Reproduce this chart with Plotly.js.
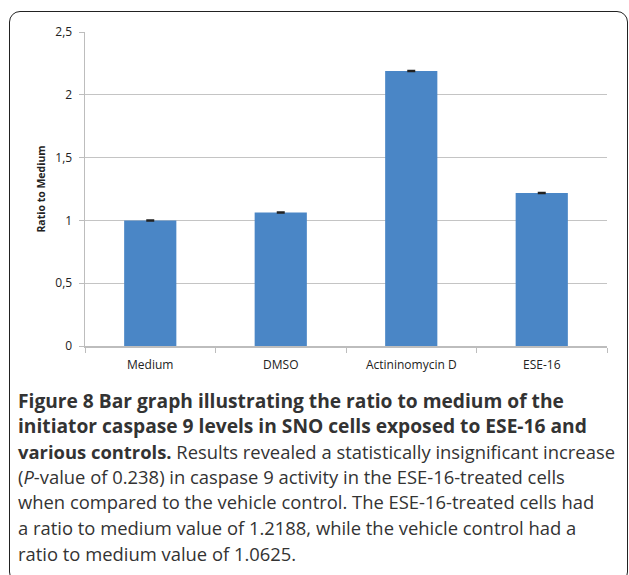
<!DOCTYPE html>
<html>
<head>
<meta charset="utf-8">
<script src="https://cdn.plot.ly/plotly-3.0.1.min.js"></script>
<style>
  html, body { margin: 0; padding: 0; background: #fff; }
  #wrap { position: relative; width: 629px; height: 575px; overflow: hidden; }
  #chart { position: absolute; left: 0; top: 0; width: 629px; height: 575px; }
  #frame { position: absolute; left: 9px; top: 11px; width: 617px; height: 570px;
           border: 1.5px solid #222; border-radius: 11px; pointer-events: none; }
</style>
</head>
<body>
<div id="wrap"><div id="chart"></div><div id="frame"></div></div>
<script>
// Data
const categories = ["Medium", "DMSO", "Actininomycin D", "ESE-16"];
const ratioValues = [1.0, 1.0625, 2.19, 1.2188];
const errorValues = [0.004, 0.004, 0.004, 0.004];
const yTickValues = [0, 0.5, 1, 1.5, 2, 2.5];
const yTickLabels = ["0", "0,5", "1", "1,5", "2", "2,5"];
const captionLines = [
  "<b>Figure 8 Bar graph illustrating the ratio to medium of the</b>",
  "<b>initiator caspase 9 levels in SNO cells exposed to ESE-16 and</b>",
  "<b>various controls.</b> Results revealed a statistically insignificant increase",
  "(<i>P</i>-value of 0.238) in caspase 9 activity in the ESE-16-treated cells",
  "when compared to the vehicle control. The ESE-16-treated cells had",
  "a ratio to medium value of 1.2188, while the vehicle control had a",
  "ratio to medium value of 1.0625."
];
const captionSizes = [19.2, 19.2, 18.4, 18.4, 18.4, 18.4, 18.4];

// Layout geometry (pixels)
const W = 629, H = 575;
const plotL = 85, plotR = 607, plotT = 32, plotB = 346;
const pw = plotR - plotL, ph = plotB - plotT;
const captionX = 16, captionY0 = 400, captionStep = 25.5;

const trace = {
  type: "bar",
  x: categories,
  y: ratioValues,
  marker: { color: "#4a86c6", line: { width: 0 } },
  error_y: { type: "data", array: errorValues, visible: true, color: "#222", thickness: 1.5, width: 4 },
  hoverinfo: "x+y"
};

const annotations = captionLines.map((t, i) => ({
  xref: "paper", yref: "paper",
  x: (captionX - plotL) / pw,
  y: (plotB - (captionY0 + i * captionStep)) / ph,
  xanchor: "left", yanchor: "middle",
  text: t, showarrow: false, align: "left",
  font: { family: "Open Sans, sans-serif", size: captionSizes[i], color: "#333" }
}));

const layout = {
  width: W, height: H,
  margin: { l: plotL, r: W - plotR, t: plotT, b: H - plotB, pad: 0 },
  paper_bgcolor: "#fff", plot_bgcolor: "#fff",
  showlegend: false,
  bargap: 0.6,
  font: { family: "Open Sans, sans-serif", color: "#222" },
  xaxis: {
    type: "category",
    tickson: "boundaries",
    ticks: "outside", ticklen: 5, tickcolor: "#bdbdbd", tickwidth: 1,
    showline: true, linecolor: "#bdbdbd", linewidth: 1.5,
    showgrid: false, zeroline: false,
    tickfont: { family: "Open Sans, sans-serif", size: 12, color: "#222" },
    ticklabelstandoff: 7,
    fixedrange: true
  },
  yaxis: {
    range: [0, 2.5],
    tickvals: yTickValues, ticktext: yTickLabels,
    ticks: "outside", ticklen: 5, tickcolor: "#bdbdbd", tickwidth: 1,
    showline: true, linecolor: "#bdbdbd", linewidth: 1.5,
    showgrid: true, gridcolor: "#c4c4c4", gridwidth: 1.2,
    zeroline: false,
    tickfont: { family: "Open Sans, sans-serif", size: 12, color: "#222" },
    ticklabelstandoff: 4,
    title: { text: "<b>Ratio to Medium</b>", font: { family: "Open Sans, sans-serif", size: 10.5, color: "#222" }, standoff: 7 },
    fixedrange: true
  },
  annotations: annotations
};

Plotly.newPlot("chart", [trace], layout, { displayModeBar: false, staticPlot: true });
</script>
</body>
</html>
